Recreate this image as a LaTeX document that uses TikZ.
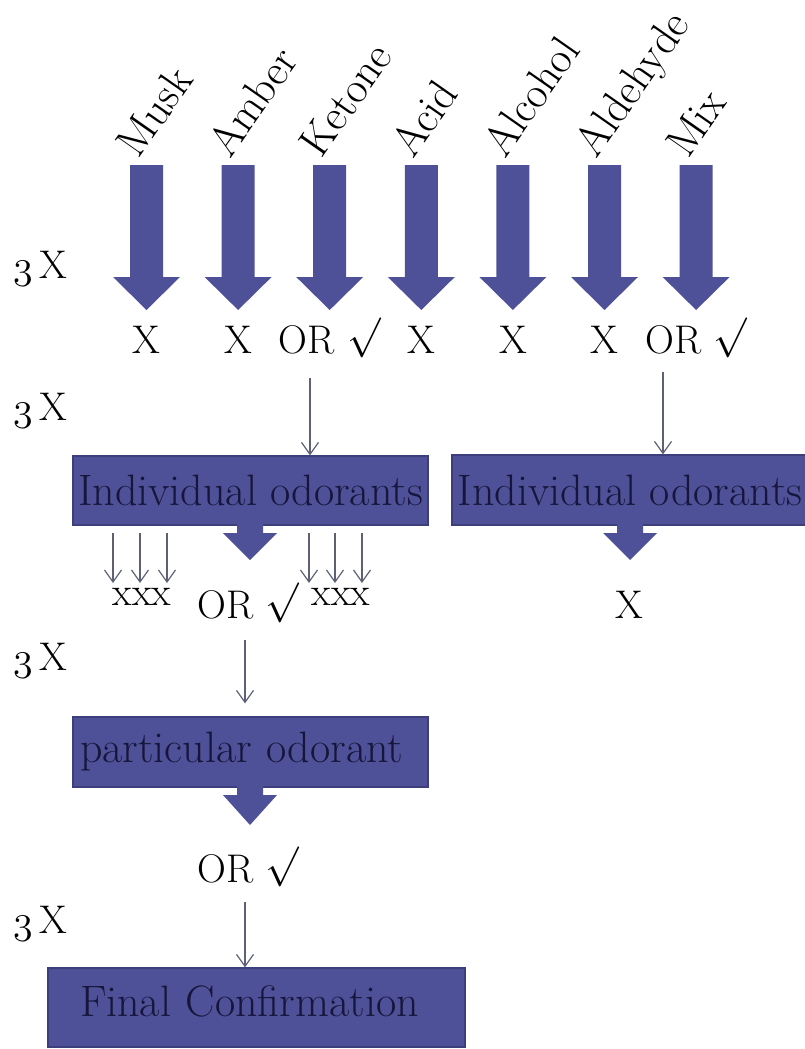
\RequirePackage{fix-cm}
\documentclass[tikz,border=0pt]{standalone}
\usepackage{fontspec}
\usepackage{tikz}
\usetikzlibrary{arrows.meta,positioning,calc}
\definecolor{cBar}{HTML}{4F5198}
\definecolor{cEdge}{HTML}{3D3F7C}
\definecolor{cInk}{HTML}{16163C}
\definecolor{cGray}{HTML}{5E6075}
\newcommand{\chk}{\raisebox{5pt}{$\surd$}}
\newcommand{\thrice}{{\usefont{OML}{cmm}{m}{it}3}\,X}
% big and small block arrows pointing down: x, top, head start, tip, half shaft, half head
\newcommand{\downblock}[6]{\fill[cBar] (#1-#5,#2) -- (#1+#5,#2) -- (#1+#5,#3) -- (#1+#6,#3) -- (#1,#4) -- (#1-#6,#3) -- (#1-#5,#3) -- cycle;}
\tikzset{
  bbox/.style={draw=cEdge,fill=cBar,line width=1.2pt,text=cInk,font=\fontsize{44}{50}\selectfont,inner sep=0pt},
  verdict/.style={font=\fontsize{40}{46}\selectfont,inner sep=0pt,anchor=base},
  thrice/.style={font=\fontsize{40}{46}\selectfont,inner sep=0pt,anchor=base west},
  odor/.style={font=\fontsize{44}{50}\selectfont,rotate=55,anchor=base west,inner sep=0pt},
  tarr/.style={-{Straight Barb[length=12pt,width=17pt]},line width=1.2pt,color=cGray},
}

\begin{document}
\begin{tikzpicture}[x=1pt,y=-1pt]
  \useasboundingbox (0,0) rectangle (804,1049);
  % the seven classes
  \foreach \name/\res [count=\i from 0] in {Musk/X,Amber/X,Ketone/{OR \chk},Acid/X,Alcohol/X,Aldehyde/X,Mix/{OR \chk}}{
    \pgfmathsetmacro\cx{146.5+91.6*\i}
    \downblock{\cx}{165}{277}{310}{16.5}{33.5}
    \node[odor] (od\i) at (\cx-8,160) {\name};
    \node[verdict] (res\i) at (\cx,353) {\res};
  }
  \foreach \yy [count=\j] in {278,420,670,933} \node[thrice] (tx\j) at (13,\yy) {\thrice};

  % second round
  \node[bbox,minimum width=355pt,minimum height=69pt] (indL) at (250.5,490.5) {Individual odorants};
  \node[bbox,minimum width=356pt,minimum height=70pt] (indR) at (630,490) {Individual odorants};
  \coordinate (k1) at (310,378);
  \coordinate (k2) at (663,372);
  \draw[tarr] (k1) -- (k1 |- indL.north);
  \draw[tarr] (k2) -- (k2 |- indR.north);
  \downblock{250}{524}{533}{560}{13}{27}
  \downblock{630}{524}{533}{560}{13}{27}
  \node[verdict] (xxxL) at (142,605) {xxx};
  \node[verdict] (xxxR) at (341,605) {xxx};
  \node[verdict] (orL) at (248,618) {OR \chk};
  \node[verdict] (xR) at (629,618) {X};
  \coordinate (tripTop) at (0,533);
  \coordinate (tripBot) at (0,583);
  \foreach \xx in {113,140,167,309,335,362}
    \draw[tarr] (tripTop -| \xx,0) -- (tripBot -| \xx,0);

  % third round
  \node[bbox,minimum height=70pt,inner xsep=7pt,text width=341pt,align=left] (partic) at (250.5,752) {particular odorant};
  \coordinate (p1) at (245,640);
  \draw[tarr,shorten >=13pt] (p1) -- (p1 |- partic.north);
  \downblock{250}{786}{795}{825}{13}{27}
  \node[verdict] (orP) at (248.5,882) {OR \chk};

  % last round
  \node[bbox,minimum height=79pt,inner xsep=32pt,text width=353pt,align=left,text depth=12pt] (fin) at (256.5,1007.5) {Final Confirmation};
  \coordinate (f1) at (245,902);
  \draw[tarr] (f1) -- (f1 |- fin.north);
\end{tikzpicture}
\end{document}
